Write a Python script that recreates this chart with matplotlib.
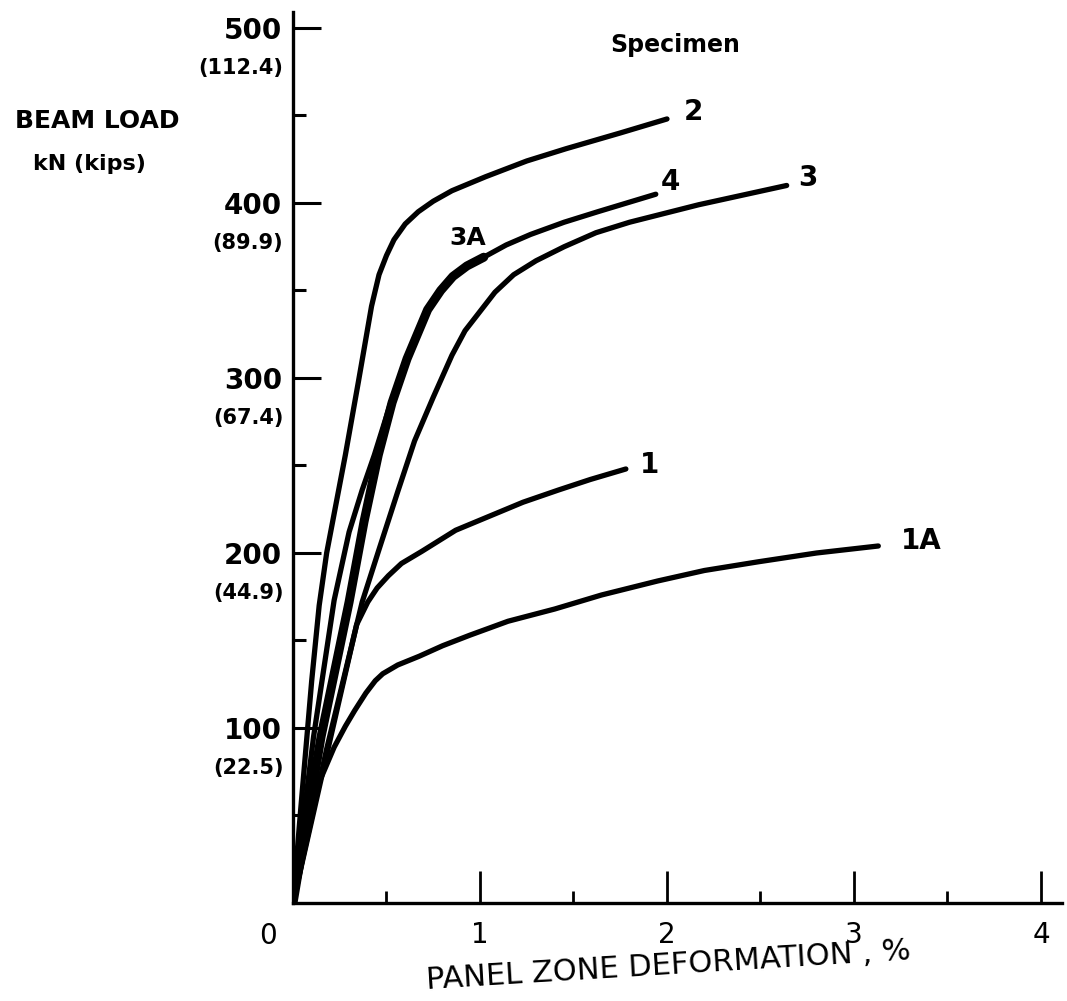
import matplotlib.pyplot as plt

# beam load (kN) vs panel zone deformation (%)
x_2 = [0, 0.04, 0.08, 0.10, 0.14, 0.18, 0.23, 0.28, 0.35, 0.42, 0.46, 0.50,
       0.54, 0.60, 0.67, 0.75, 0.85, 1.03, 1.25, 1.46, 1.75, 2.0]
y_2 = [0, 52, 102, 127, 170, 200, 228, 256, 298, 341, 359, 370,
       379, 388, 395, 401, 407, 415, 424, 431, 440, 448]

x_4 = [0, 0.11, 0.22, 0.30, 0.37, 0.435, 0.52, 0.61, 0.72, 0.79, 0.855, 0.93,
       1.02, 1.14, 1.27, 1.45, 1.63, 1.94]
y_4 = [0, 95, 173, 212, 236, 256, 285, 311, 339, 350, 358, 364,
       369, 376, 382, 389, 395, 405]

x_3a = [0, 0.15, 0.30, 0.38, 0.456, 0.53, 0.61, 0.72, 0.79, 0.855, 0.93, 1.02]
y_3a = [0, 95, 172, 218, 256, 286, 311, 339, 350, 358, 364, 369]

x_3 = [0, 0.18, 0.37, 0.46, 0.56, 0.65, 0.75, 0.85, 0.92, 1.0, 1.08, 1.18,
       1.30, 1.45, 1.62, 1.80, 2.17, 2.64]
y_3 = [0, 88, 172, 202, 235, 264, 289, 313, 327, 338, 349, 359,
       367, 375, 383, 389, 399, 410]

x_1 = [0, 0.17, 0.34, 0.40, 0.45, 0.51, 0.58, 0.69, 0.87, 1.05, 1.23, 1.42,
       1.59, 1.78]
y_1 = [0, 80, 159, 172, 180, 187, 194, 201, 213, 221, 229, 236, 242, 248]

x_1a = [0, 0.07, 0.14, 0.22, 0.28, 0.33, 0.39, 0.44, 0.48, 0.56, 0.675, 0.80,
        0.945, 1.15, 1.40, 1.65, 1.95, 2.2, 2.49, 2.8, 3.13]
y_1a = [0, 36, 69, 89, 101, 110, 120, 127, 131, 136, 141, 147,
        153, 161, 168, 176, 184, 190, 195, 200, 204]

# curve labels: text, x, y
labels = [("2", 2.087, 452), ("4", 1.965, 412), ("3", 2.70, 414),
          ("1", 1.853, 250), ("1A", 3.25, 207)]

y_ticks = [100, 200, 300, 400, 500]
kips = ["22.5", "44.9", "67.4", "89.9", "112.4"]
x_ticks = [1, 2, 3, 4]

fig = plt.figure(figsize=(10.67, 10.01), dpi=100)
ax = fig.add_axes([0.2746, 0.0979, 0.7203, 0.8899])

for xs, ys in [(x_2, y_2), (x_4, y_4), (x_3, y_3), (x_1, y_1), (x_1a, y_1a)]:
    ax.plot(xs, ys, color="black", lw=3.8, solid_capstyle="round",
            solid_joinstyle="round")
ax.plot(x_3a, y_3a, color="black", lw=6.5, solid_capstyle="round",
        solid_joinstyle="round")

for txt, tx, ty in labels:
    ax.text(tx, ty, txt, ha="left", va="center", fontsize=20, fontweight="bold")
ax.text(0.935, 380, "3A", ha="center", va="center", fontsize=18, fontweight="bold")

ax.set_xlim(0, 4.11)
ax.set_ylim(0, 509)
for s in ["top", "right"]:
    ax.spines[s].set_visible(False)
for s in ["left", "bottom"]:
    ax.spines[s].set_linewidth(2.4)

ax.set_yticks(y_ticks)
ax.set_yticklabels([str(v) for v in y_ticks], fontweight="bold")
ax.set_yticks([50, 150, 250, 350, 450], minor=True)
ax.set_xticks(x_ticks)
ax.set_xticklabels([str(v) for v in x_ticks])
ax.set_xticks([0.5, 1.5, 2.5, 3.5], minor=True)

ax.tick_params(axis="y", which="major", direction="in", length=20, width=2.2,
               pad=8, labelsize=20)
ax.tick_params(axis="y", which="minor", direction="in", length=9, width=2.2)
ax.tick_params(axis="x", which="major", direction="in", length=23, width=2.0,
               pad=13, labelsize=20)
ax.tick_params(axis="x", which="minor", direction="in", length=9, width=2.0)

for v, k in zip(y_ticks, kips):
    ax.annotate(f"({k})", xy=(0, v), xytext=(-7, -29), textcoords="offset points",
                ha="right", va="center", fontsize=15, fontweight="bold",
                annotation_clip=False)
ax.annotate("0", xy=(0, 0), xytext=(-18, -24), textcoords="offset points",
            ha="center", va="center", fontsize=20, annotation_clip=False)

fig.text(15 / 1067, 1 - 121 / 1001, "BEAM LOAD", ha="left", va="center",
         fontsize=18, fontweight="bold")
fig.text(33 / 1067, 1 - 164 / 1001, "kN (kips)", ha="left", va="center",
         fontsize=16, fontweight="bold")
fig.text(610 / 1067, 1 - 45 / 1001, "Specimen", ha="left", va="center",
         fontsize=17, fontweight="bold")
fig.text(668 / 1067, 1 - 966 / 1001, "PANEL ZONE DEFORMATION , %", ha="center",
         va="center", fontsize=22, rotation=3.5, rotation_mode="anchor")

plt.savefig("out.png", dpi=100)
